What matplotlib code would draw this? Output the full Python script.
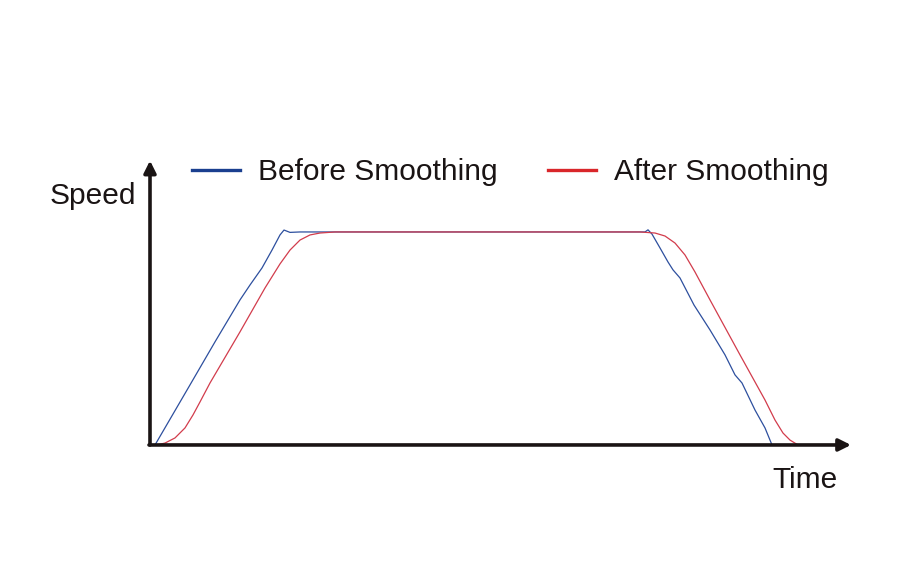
import matplotlib.pyplot as plt

plt.rcParams['font.family'] = ['Liberation Sans', 'DejaVu Sans']

# time / speed samples (plateau speed = 1)
t_before = [0.03, 0.38, 0.63, 0.88, 0.98, 1.10, 1.20, 1.28, 1.32, 1.38, 1.48,
            4.93, 4.96, 5.00, 5.08, 5.16, 5.21, 5.28, 5.42, 5.58, 5.73, 5.83,
            5.90, 6.03, 6.13, 6.20]
v_before = [0.0, 0.282, 0.484, 0.681, 0.751, 0.831, 0.915, 0.986, 1.009, 0.998, 1.0,
            1.0, 1.01, 0.99, 0.925, 0.859, 0.822, 0.784, 0.657, 0.540, 0.423, 0.329,
            0.291, 0.164, 0.080, 0.0]

t_after = [0.05, 0.13, 0.23, 0.33, 0.41, 0.48, 0.58, 0.88, 1.13, 1.28, 1.38, 1.48,
           1.58, 1.68, 1.83, 4.88, 5.03, 5.13, 5.23, 5.33, 5.43, 5.58, 5.88, 6.13,
           6.23, 6.31, 6.38, 6.46]
v_after = [0.0, 0.009, 0.033, 0.080, 0.141, 0.202, 0.291, 0.531, 0.737, 0.850, 0.915,
           0.962, 0.986, 0.995, 1.0, 1.0, 0.995, 0.981, 0.948, 0.892, 0.812, 0.681,
           0.423, 0.211, 0.117, 0.056, 0.023, 0.0]

labels = ['Before Smoothing', 'After Smoothing']

fig = plt.figure(figsize=(9.11, 5.70), dpi=100)
ax = fig.add_axes([0, 0, 1, 1])
ax.set_xlim(-1.52, 7.59)
ax.set_ylim(-0.587, 2.089)
ax.axis('off')

ax.plot(t_before, v_before, color='#2d4f9e', lw=0.9, label=labels[0])
ax.plot(t_after, v_after, color='#d23c4c', lw=0.9, label=labels[1])

# axes with arrows
arrow = dict(arrowstyle='-|>', lw=2.6, color='#1a1414', mutation_scale=18,
             shrinkA=0, shrinkB=0)
ax.annotate('', xy=(-0.02, 1.335), xytext=(-0.02, 0.0), arrowprops=arrow)
ax.annotate('', xy=(6.99, 0.0), xytext=(-0.03, 0.0), arrowprops=arrow)

ax.text(-1.02, 1.170, 'Speed', fontsize=21.5, ha='left', va='center', color='#1a1414')
ax.text(6.20, -0.163, 'Time', fontsize=21.5, ha='left', va='center', color='#1a1414')

leg = ax.legend(ncol=2, frameon=False, fontsize=21.5, handlelength=1.6,
                handletextpad=0.6, columnspacing=1.7, borderpad=0, borderaxespad=0,
                loc='center left', bbox_to_anchor=(192 / 911, 1 - 172 / 570))
for line, c in zip(leg.get_lines(), ['#1a3f8f', '#d9262a']):
    line.set_color(c)
    line.set_linewidth(2.4)
for txt in leg.get_texts():
    txt.set_color('#1a1414')

fig.savefig('out.png', dpi=100)
